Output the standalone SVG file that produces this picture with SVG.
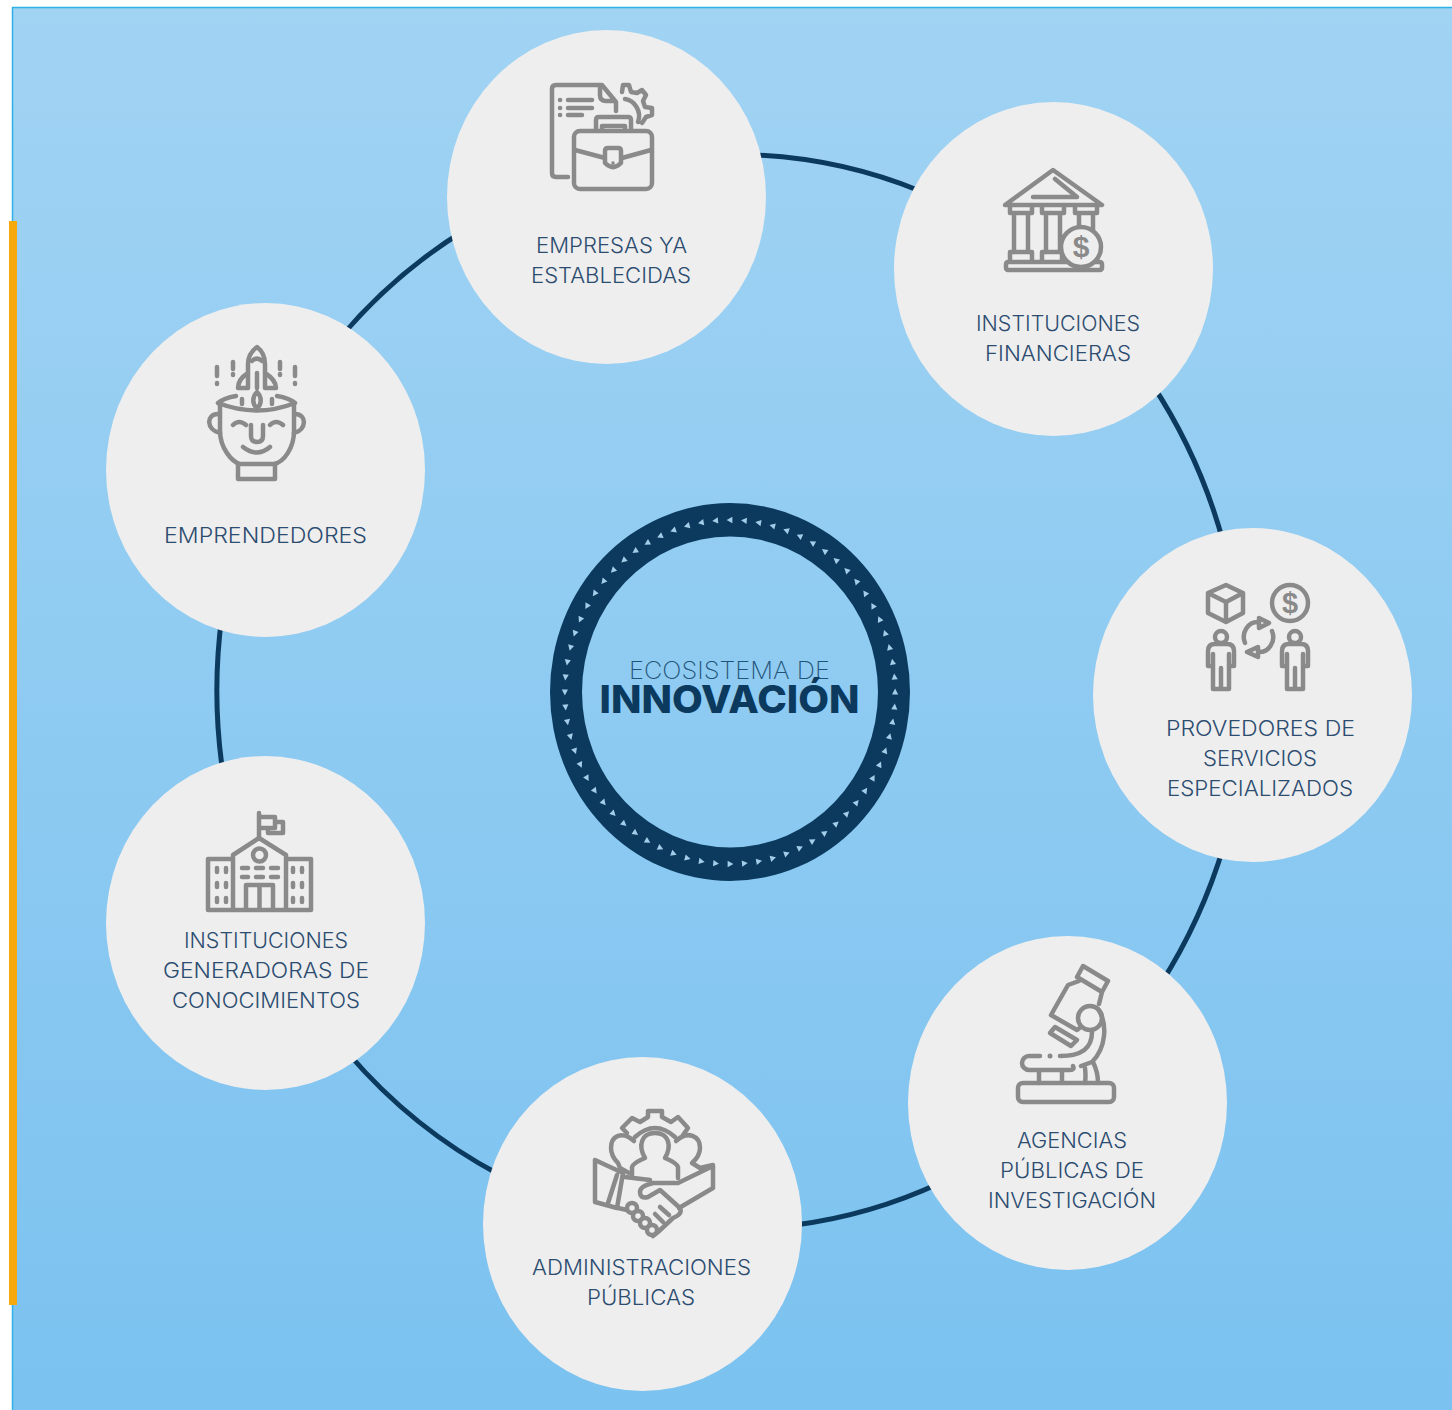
<svg xmlns="http://www.w3.org/2000/svg" width="1452" height="1410" viewBox="0 0 1452 1410">
<style>
.lbl{font-family:"Inter","Open Sans","Liberation Sans",sans-serif;font-weight:300;font-size:21px;fill:#2c4c70;text-anchor:middle}
.bub{fill:#eeeeee}
.ic{fill:none;stroke:#8a8a8a;stroke-width:4.500;stroke-linecap:round;stroke-linejoin:round}
.icf{fill:#eeeeee;stroke:#8a8a8a;stroke-width:4.500;stroke-linecap:round;stroke-linejoin:round}
.dot{fill:#8a8a8a}
.usd{font-family:"Liberation Sans",sans-serif;font-weight:700;fill:#8a8a8a;text-anchor:middle}
.arc{fill:none;stroke:#0b3a5e;stroke-width:5}
</style>
<defs>
<linearGradient id="bg" x1="0" y1="0" x2="0" y2="1"><stop offset="0" stop-color="#a1d3f3"/><stop offset="1" stop-color="#7bc2f0"/></linearGradient>
<polygon id="t" points="-3.5,0 2.5,-3.2 2.5,3.2" fill="#a3cde9"/>
</defs>
<rect width="1452" height="1410" fill="#ffffff"/>
<rect x="12.500" y="7.500" width="1445" height="1410" fill="url(#bg)" stroke="#2fb0e6" stroke-width="1.500"/>
<rect x="9" y="221" width="8" height="1084" fill="#f6a90c"/>
<g id="connectors">
<path class="arc" d="M755,155 A513 537 0 0 1 920,191"/>
<path class="arc" d="M1152,384 A513 537 0 0 1 1224,545"/>
<path class="arc" d="M1224,845 A513 537 0 0 1 1160,985"/>
<path class="arc" d="M940,1183 A513 537 0 0 1 795,1225"/>
<path class="arc" d="M500,1175 A513 537 0 0 1 348,1053"/>
<path class="arc" d="M224,780 A513 537 0 0 1 222,615"/>
<path class="arc" d="M340,338 A513 537 0 0 1 465,230"/>
</g>
<g id="centre">
<path fill="#0b3a5e" fill-rule="evenodd" d="M550,692 a180 189 0 1 0 360 0 a180 189 0 1 0 -360 0 Z M582,692 a148 155.500 0 1 0 296 0 a148 155.500 0 1 0 -296 0 Z"/>
<g transform="translate(730,692) scale(.96,1)">
<use href="#t" transform="rotate(0) translate(0,-172)"/><use href="#t" transform="rotate(5) translate(0,-172)"/><use href="#t" transform="rotate(10) translate(0,-172)"/><use href="#t" transform="rotate(15) translate(0,-172)"/><use href="#t" transform="rotate(20) translate(0,-172)"/><use href="#t" transform="rotate(25) translate(0,-172)"/><use href="#t" transform="rotate(30) translate(0,-172)"/><use href="#t" transform="rotate(35) translate(0,-172)"/><use href="#t" transform="rotate(40) translate(0,-172)"/><use href="#t" transform="rotate(45) translate(0,-172)"/><use href="#t" transform="rotate(50) translate(0,-172)"/><use href="#t" transform="rotate(55) translate(0,-172)"/><use href="#t" transform="rotate(60) translate(0,-172)"/><use href="#t" transform="rotate(65) translate(0,-172)"/><use href="#t" transform="rotate(70) translate(0,-172)"/><use href="#t" transform="rotate(75) translate(0,-172)"/><use href="#t" transform="rotate(80) translate(0,-172)"/><use href="#t" transform="rotate(85) translate(0,-172)"/><use href="#t" transform="rotate(90) translate(0,-172)"/><use href="#t" transform="rotate(95) translate(0,-172)"/><use href="#t" transform="rotate(100) translate(0,-172)"/><use href="#t" transform="rotate(105) translate(0,-172)"/><use href="#t" transform="rotate(110) translate(0,-172)"/><use href="#t" transform="rotate(115) translate(0,-172)"/><use href="#t" transform="rotate(120) translate(0,-172)"/><use href="#t" transform="rotate(125) translate(0,-172)"/><use href="#t" transform="rotate(130) translate(0,-172)"/><use href="#t" transform="rotate(135) translate(0,-172)"/><use href="#t" transform="rotate(140) translate(0,-172)"/><use href="#t" transform="rotate(145) translate(0,-172)"/><use href="#t" transform="rotate(150) translate(0,-172)"/><use href="#t" transform="rotate(155) translate(0,-172)"/><use href="#t" transform="rotate(160) translate(0,-172)"/><use href="#t" transform="rotate(165) translate(0,-172)"/><use href="#t" transform="rotate(170) translate(0,-172)"/><use href="#t" transform="rotate(175) translate(0,-172)"/><use href="#t" transform="rotate(180) translate(0,-172)"/><use href="#t" transform="rotate(185) translate(0,-172)"/><use href="#t" transform="rotate(190) translate(0,-172)"/><use href="#t" transform="rotate(195) translate(0,-172)"/><use href="#t" transform="rotate(200) translate(0,-172)"/><use href="#t" transform="rotate(205) translate(0,-172)"/><use href="#t" transform="rotate(210) translate(0,-172)"/><use href="#t" transform="rotate(215) translate(0,-172)"/><use href="#t" transform="rotate(220) translate(0,-172)"/><use href="#t" transform="rotate(225) translate(0,-172)"/><use href="#t" transform="rotate(230) translate(0,-172)"/><use href="#t" transform="rotate(235) translate(0,-172)"/><use href="#t" transform="rotate(240) translate(0,-172)"/><use href="#t" transform="rotate(245) translate(0,-172)"/><use href="#t" transform="rotate(250) translate(0,-172)"/><use href="#t" transform="rotate(255) translate(0,-172)"/><use href="#t" transform="rotate(260) translate(0,-172)"/><use href="#t" transform="rotate(265) translate(0,-172)"/><use href="#t" transform="rotate(270) translate(0,-172)"/><use href="#t" transform="rotate(275) translate(0,-172)"/><use href="#t" transform="rotate(280) translate(0,-172)"/><use href="#t" transform="rotate(285) translate(0,-172)"/><use href="#t" transform="rotate(290) translate(0,-172)"/><use href="#t" transform="rotate(295) translate(0,-172)"/><use href="#t" transform="rotate(300) translate(0,-172)"/><use href="#t" transform="rotate(305) translate(0,-172)"/><use href="#t" transform="rotate(310) translate(0,-172)"/><use href="#t" transform="rotate(315) translate(0,-172)"/><use href="#t" transform="rotate(320) translate(0,-172)"/><use href="#t" transform="rotate(325) translate(0,-172)"/><use href="#t" transform="rotate(330) translate(0,-172)"/><use href="#t" transform="rotate(335) translate(0,-172)"/><use href="#t" transform="rotate(340) translate(0,-172)"/><use href="#t" transform="rotate(345) translate(0,-172)"/><use href="#t" transform="rotate(350) translate(0,-172)"/><use href="#t" transform="rotate(355) translate(0,-172)"/>
</g>
<text x="729.500" y="679" text-anchor="middle" font-family="Inter,'Liberation Sans',sans-serif" font-weight="200" font-size="24" fill="#1f5378" textLength="201" lengthAdjust="spacingAndGlyphs">ECOSISTEMA DE</text>
<text x="729.500" y="713" text-anchor="middle" font-family="Inter,'Liberation Sans',sans-serif" font-weight="800" font-size="38" fill="#0b3a5e" textLength="260" lengthAdjust="spacingAndGlyphs">INNOVACIÓN</text>
</g>

<g id="empresas">
<ellipse class="bub" cx="606.500" cy="197" rx="159.500" ry="167"/>
<path class="ic" d="M568,177 H556 Q552,177 552,173 V89 Q552,85 556,85 H602 L616,102 V111 M600,87 V95 Q600,101 606,101 H615"/>
<path class="ic" d="M560,100 h.1 M560,108 h.1 M560,115 h.1 M568,100 H592 M568,108 H592 M568,115 H582"/>
<path class="ic" d="M625,99 C634,100 642,111 638,122 M622,92 L623,85 H629 L631,92 L637,93 L642,90 L646,95 L643,101 L645,107 L652,108 V115 L646,117 L642,123"/>
<path class="ic" d="M596,131 V120 Q596,117 599,117 H628 Q631,117 631,120 V131 M602,131 V126 H625 V131"/>
<rect class="icf" x="574" y="131" width="78" height="58" rx="6"/>
<path class="ic" d="M575,150 L605,158 M622,158 L651,150 M605,151 Q605,148 608,148 H618 Q621,148 621,151 V163 Q613,171 605,163 Z"/>
<circle class="dot" cx="613" cy="163" r="1.800"/>
<text class="lbl" x="611.500" y="253" textLength="151" lengthAdjust="spacingAndGlyphs">EMPRESAS YA</text>
<text class="lbl" x="611" y="283" textLength="160" lengthAdjust="spacingAndGlyphs">ESTABLECIDAS</text>
</g>

<g id="financieras">
<ellipse class="bub" cx="1053.500" cy="269" rx="159.500" ry="167"/>
<path class="ic" d="M1005,205 L1053,170 L1102,205 Z M1033,197 H1077 L1055,179"/>
<path class="ic" d="M1010,207 V213 H1032 V207 M1042,207 V213 H1064 V207 M1075,207 V213 H1097 V207"/>
<path class="ic" d="M1014,214 V252 M1028,214 V252 M1046,214 V252 M1060,214 V252 M1079,214 V232 M1093,214 V232"/>
<path class="ic" d="M1010,260 V252 H1032 V260 M1042,260 V252 H1062 V260"/>
<rect class="ic" x="1006" y="262" width="96" height="8" rx="2"/>
<circle class="icf" cx="1081" cy="247" r="20"/>
<text class="usd" x="1081" y="257" font-size="30">$</text>
<text class="lbl" x="1058" y="331" textLength="164" lengthAdjust="spacingAndGlyphs">INSTITUCIONES</text>
<text class="lbl" x="1058" y="361" textLength="146" lengthAdjust="spacingAndGlyphs">FINANCIERAS</text>
</g>

<g id="provedores">
<ellipse class="bub" cx="1252.500" cy="695" rx="159.500" ry="167"/>
<path class="ic" d="M1226,585 L1243,593 V613 L1226,622 L1208,613 V593 Z M1208,593 L1226,602 L1243,593 M1226,602 V622"/>
<circle class="ic" cx="1290" cy="603" r="18"/>
<text class="usd" x="1290" y="613" font-size="29">$</text>
<path class="ic" d="M1245,643 A14 15 0 0 1 1259,622 M1272,631 A14 15 0 0 1 1258,652 M1259,618 L1269,623 L1259,628 Z M1258,647 L1247,652 L1258,657 Z"/>
<g id="p1"><circle class="ic" cx="1221" cy="637" r="6"/><path class="ic" d="M1208,666 V651 Q1208,644 1215,644 H1227 Q1234,644 1234,651 V666 H1229 V654 M1208,666 H1213 V654 M1213,666 V689 H1229 V666 M1221,668 V689"/></g>
<g id="p2"><circle class="ic" cx="1295" cy="637" r="6"/><path class="ic" d="M1282,666 V651 Q1282,644 1289,644 H1301 Q1308,644 1308,651 V666 H1303 V654 M1282,666 H1287 V654 M1287,666 V689 H1303 V666 M1295,668 V689"/></g>
<text class="lbl" x="1260.500" y="736" textLength="189" lengthAdjust="spacingAndGlyphs">PROVEDORES DE</text>
<text class="lbl" x="1260" y="766" textLength="114" lengthAdjust="spacingAndGlyphs">SERVICIOS</text>
<text class="lbl" x="1260" y="796" textLength="186" lengthAdjust="spacingAndGlyphs">ESPECIALIZADOS</text>
</g>

<g id="agencias">
<ellipse class="bub" cx="1067.500" cy="1103" rx="159.500" ry="167"/>
<path class="ic" d="M1083,966 L1108,981 L1102,992 L1077,977 Z M1079,981 L1068,985 L1051,1015 L1077,1030 L1081,1027 M1102,992 L1099,1004"/>
<path class="ic" d="M1055,1027 L1077,1040 L1071,1046 L1050,1033 Z"/>
<circle class="ic" cx="1090" cy="1018" r="12"/>
<path class="ic" d="M1098,1009 C1108,1024 1106,1048 1092,1062 L1081,1066 M1092,1032 C1092,1048 1082,1056 1060,1056 M1040,1056 H1029 A7 7 0 0 0 1029,1070 H1070 Q1075,1070 1073,1066 M1039,1070 V1083 M1062,1070 V1083 M1085,1068 Q1086,1076 1085,1083 M1093,1062 Q1098,1072 1098,1083"/>
<circle class="dot" cx="1050" cy="1056" r="2.500"/>
<rect class="ic" x="1018" y="1083" width="96" height="19" rx="5"/>
<text class="lbl" x="1072" y="1148" textLength="110" lengthAdjust="spacingAndGlyphs">AGENCIAS</text>
<text class="lbl" x="1072" y="1178" textLength="144" lengthAdjust="spacingAndGlyphs">PÚBLICAS DE</text>
<text class="lbl" x="1072" y="1208" textLength="168" lengthAdjust="spacingAndGlyphs">INVESTIGACIÓN</text>
</g>

<g id="administraciones">
<ellipse class="bub" cx="642.500" cy="1224" rx="159.500" ry="167"/>
<path class="ic" d="M627,1133 L622,1128 L632,1118 L640,1122 L648,1117 V1111 H662 V1117 L671,1122 L678,1117 L688,1128 L683,1135 M635,1137 Q655,1119 675,1137"/>
<path class="ic" d="M632,1175 V1167 Q633,1163 645,1158 C638,1146 641,1133 655,1133 C669,1133 672,1146 665,1158 Q677,1163 678,1167 V1178"/>
<path class="ic" d="M634,1141 C622,1130 611,1136 611,1148 Q611,1156 618,1163 L620,1168 L629,1173 M676,1141 C688,1130 700,1136 700,1148 Q700,1156 692,1163 L700,1168 L713,1165"/>
<path class="ic" d="M595,1160 V1202 L617,1208 L623,1173 Z M608,1203 L617,1175"/>
<path class="ic" d="M713,1166 V1188 L679,1208 M713,1166 L678,1183 H653 Q640,1186 640,1192 Q640,1199 648,1197 L660,1190 L680,1208 Q683,1214 673,1218 L658,1232 L653,1236 M625,1177 L650,1180 M618,1208 L627,1210 M660,1207 L669,1215 M655,1214 L663,1222"/>
<circle class="icf" cx="632" cy="1208" r="5"/><circle class="icf" cx="638" cy="1216" r="5"/><circle class="icf" cx="645" cy="1223" r="5"/><circle class="icf" cx="652" cy="1230" r="5"/>
<text class="lbl" x="641.500" y="1275" textLength="219" lengthAdjust="spacingAndGlyphs">ADMINISTRACIONES</text>
<text class="lbl" x="641" y="1305" textLength="108" lengthAdjust="spacingAndGlyphs">PÚBLICAS</text>
</g>

<g id="generadoras">
<ellipse class="bub" cx="265.500" cy="923" rx="159.500" ry="167"/>
<path class="ic" d="M259,813 V838 M259,817 H275 V828 H259 M275,822 H283 V833 H268 V828"/>
<path class="ic" d="M233,909 V855 L259,838 L286,855 V909 M233,859 H208 V910 H311 V859 H286"/>
<circle class="ic" cx="259.500" cy="855" r="6.500"/>
<path class="ic" d="M242,868 H248 M256,868 H263 M271,868 H278 M242,877 H248 M256,877 H263 M271,877 H278 M246,909 V885 H273 V909 M259.500,885 V909"/>
<path class="ic" d="M217,868 V872 M226,868 V872 M217,883 V887 M226,883 V887 M217,898 V902 M226,898 V902 M293,868 V872 M302,868 V872 M293,883 V887 M302,883 V887 M293,898 V902 M302,898 V902"/>
<text class="lbl" x="266" y="948" textLength="164" lengthAdjust="spacingAndGlyphs">INSTITUCIONES</text>
<text class="lbl" x="266" y="978" textLength="206" lengthAdjust="spacingAndGlyphs">GENERADORAS DE</text>
<text class="lbl" x="266" y="1008" textLength="188" lengthAdjust="spacingAndGlyphs">CONOCIMIENTOS</text>
</g>

<g id="emprendedores">
<ellipse class="bub" cx="265.500" cy="470" rx="159.500" ry="167"/>
<path class="ic" d="M248,388 V364 C248,356 253,350 257,347 C261,350 265,356 265,364 V388 M248,373 C240,378 238,384 238,388 H248 M265,373 C273,378 276,384 276,388 H265 M252,361 Q257,356 262,361 M257,373 V388"/>
<path class="ic" d="M257,392 C252,397 252,404 257,408 C262,404 262,397 257,392 Z"/>
<path class="ic" d="M217,367 V376 M217,383 V384 M233,362 V369 M233,374 V375 M280,362 V369 M280,374 V375 M295,367 V376 M295,383 V384 M242,399 V404 M272,399 V404"/>
<path class="ic" d="M218,403 Q224,398 236,396 M277,396 Q289,398 295,403 M218,403 Q257,418 295,403 M220,404 V431 C220,448 232,462 240,464 H274 C284,462 294,448 294,431 V404"/>
<path class="ic" d="M218,414 C206,414 206,430 220,433 M295,414 C307,414 307,430 294,433"/>
<path class="ic" d="M238,464 V479 H275 V464 M233,425 Q239,419 246,425 M270,425 Q276,419 283,425 M251,425 V436 Q251,442 257,442 Q263,442 263,436 V425 M243,447 Q257,458 270,447"/>
<text class="lbl" x="265.500" y="543" textLength="203" lengthAdjust="spacingAndGlyphs">EMPRENDEDORES</text>
</g>
</svg>
